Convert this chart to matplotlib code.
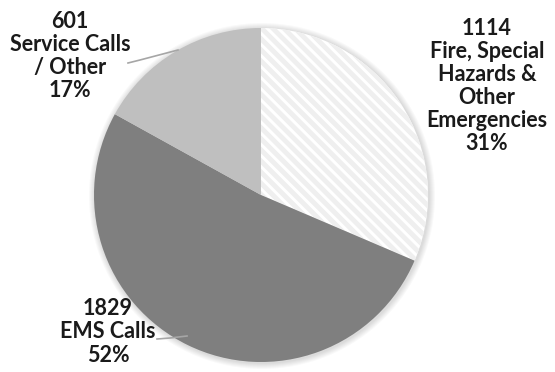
import matplotlib
matplotlib.use("Agg")
import matplotlib.pyplot as plt
from matplotlib.patches import Circle

# Incident counts by call type
categories = ["Fire, Special\nHazards &\nOther\nEmergencies", "EMS Calls", "Service Calls\n/ Other"]
counts = [1114, 1829, 601]
percents = [31, 52, 17]
colors = ["white", "#7f7f7f", "#bfbfbf"]

plt.rcParams["font.family"] = ["Lato", "DejaVu Sans"]
plt.rcParams["hatch.linewidth"] = 3.5

W, H = 555, 372
fig = plt.figure(figsize=(W / 100, H / 100), dpi=100)
ax = fig.add_axes([0, 0, 1, 1])

cx, cy, r = 261, H - 195, 167

# soft shadow around the pie
for i in range(6):
    ax.add_patch(Circle((cx + 1, cy - 1), r + 1 + i, color="#000000",
                        alpha=0.025, lw=0, zorder=0))

wedges, _ = ax.pie(counts, colors=colors, startangle=90, counterclock=False,
                   center=(cx, cy), radius=r, frame=True,
                   wedgeprops=dict(linewidth=0))
wedges[0].set_hatch("\\\\\\")
wedges[0].set_edgecolor("#efefef")
wedges[0].set_linewidth(0)
ax.set_xlim(0, W)
ax.set_ylim(0, H)
ax.set_aspect("equal")
ax.axis("off")

# leader lines
ax.plot([128, 140, 178], [H - 63, H - 60, H - 50], color="#a6a6a6", lw=1.2, zorder=5)
ax.plot([157, 170, 187], [H - 339, H - 338, H - 336], color="#a6a6a6", lw=1.2, zorder=5)

label_pos = [(487, 86), (108, 332), (70, 56)]
for (x, y), cat, n, p in zip(label_pos, categories, counts, percents):
    ax.text(x, H - y, f"{n}\n{cat}\n{p}%", ha="center", va="center",
            fontsize=15.5, fontweight="bold", color="#1a1a1a", linespacing=1.12)

fig.savefig("out.png", dpi=100)
